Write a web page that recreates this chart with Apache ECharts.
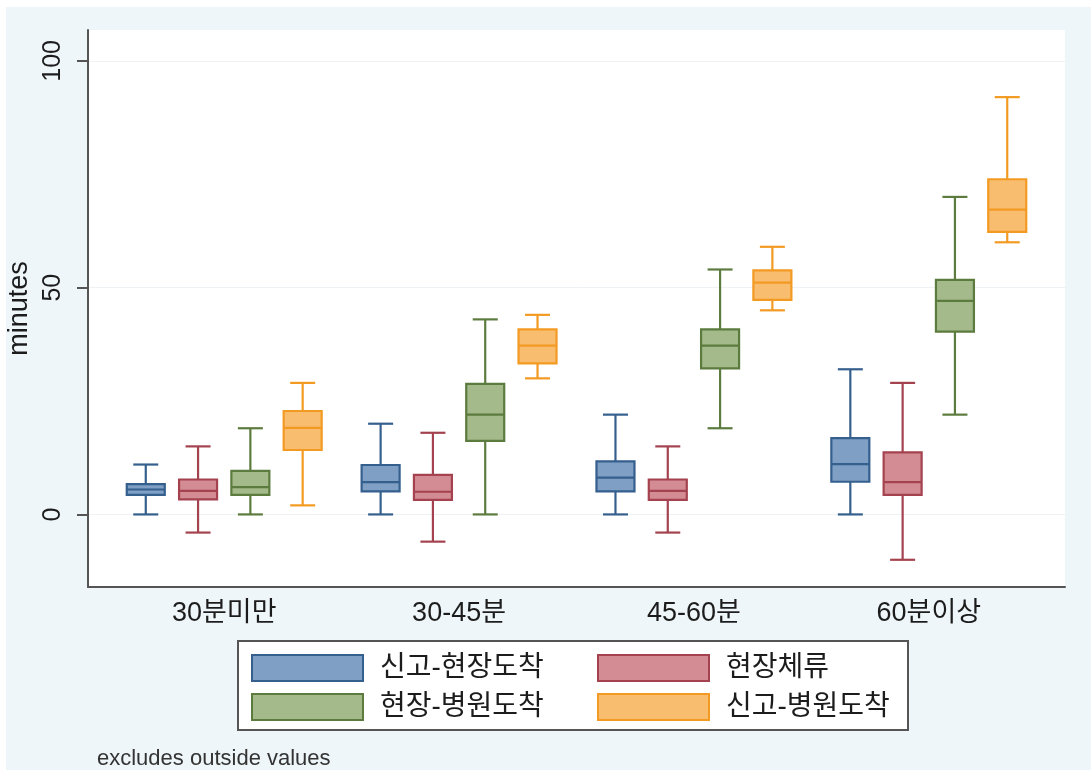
<!DOCTYPE html>
<html>
<head>
<meta charset="utf-8">
<script src="https://cdn.jsdelivr.net/npm/echarts@6/dist/echarts.min.js"></script>
<style>
  html, body { margin: 0; padding: 0; background: #ffffff; }
  #chart { width: 1091px; height: 770px; }
</style>
</head>
<body>
<div id="chart"></div>
<script>
// Response-time groups on the horizontal axis
const categories = ['30분미만', '30-45분', '45-60분', '60분이상'];
const seriesNames = ['신고-현장도착', '현장체류', '현장-병원도착', '신고-병원도착'];
const yTicks = [0, 50, 100];

// Box statistics per group: [lower whisker, Q1, median, Q3, upper whisker] (minutes)
const callToScene = [
  [0, 4.3, 5.5, 6.7, 11],
  [0, 5.1, 7.1, 10.9, 20],
  [0, 5.1, 8.1, 11.7, 22],
  [0, 7.2, 11.1, 16.8, 32]
];
const onScene = [
  [-4, 3.3, 5.2, 7.7, 15],
  [-6, 3.2, 5.0, 8.7, 18],
  [-4, 3.2, 5.2, 7.7, 15],
  [-10, 4.3, 7.1, 13.7, 29]
];
const sceneToHospital = [
  [0, 4.3, 6.0, 9.6, 19],
  [0, 16.2, 22.0, 28.8, 43],
  [19, 32.2, 37.2, 40.8, 54],
  [22, 40.3, 47.1, 51.7, 70]
];
const callToHospital = [
  [2, 14.2, 19.1, 22.8, 29],
  [30, 33.3, 37.2, 40.8, 44],
  [45, 47.3, 51.1, 53.8, 59],
  [60, 62.3, 67.2, 73.9, 92]
];

const allStats = [callToScene, onScene, sceneToHospital, callToHospital];
const fills   = ['#7f9fc4', '#d38c94', '#a4ba8a', '#f9bd6f'];
const strokes = ['#355f8d', '#a4434f', '#5c7b3e', '#f39a23'];

// side-by-side slot of each series inside a group, in axis units
const SLOT_STEP = 0.2227;
const BOX_W = 38;
const CAP_W = 25;
const LINE_W = 2.2;

const FONT = "'Liberation Sans', 'Noto Sans CJK KR', sans-serif";
const TEXT_COLOR = '#1c1c1c';

function makeRenderer(slot, fill, stroke) {
  return function (params, api) {
    const x = api.value(0) + slot;
    const pMin = api.coord([x, api.value(1)]);
    const yQ1 = api.coord([x, api.value(2)])[1];
    const yMed = api.coord([x, api.value(3)])[1];
    const yQ3 = api.coord([x, api.value(4)])[1];
    const yMax = api.coord([x, api.value(5)])[1];
    const cx = pMin[0];
    const yMin = pMin[1];
    const lineStyle = { stroke: stroke, lineWidth: LINE_W, fill: null };
    return {
      type: 'group',
      children: [
        { type: 'line', shape: { x1: cx, y1: yMax, x2: cx, y2: yQ3 }, style: lineStyle },
        { type: 'line', shape: { x1: cx, y1: yQ1, x2: cx, y2: yMin }, style: lineStyle },
        { type: 'line', shape: { x1: cx - CAP_W / 2, y1: yMax, x2: cx + CAP_W / 2, y2: yMax }, style: lineStyle },
        { type: 'line', shape: { x1: cx - CAP_W / 2, y1: yMin, x2: cx + CAP_W / 2, y2: yMin }, style: lineStyle },
        { type: 'rect', shape: { x: cx - BOX_W / 2, y: yQ3, width: BOX_W, height: yQ1 - yQ3 },
          style: { fill: fill, stroke: stroke, lineWidth: LINE_W } },
        { type: 'line', shape: { x1: cx - BOX_W / 2, y1: yMed, x2: cx + BOX_W / 2, y2: yMed }, style: lineStyle }
      ]
    };
  };
}

const series = allStats.map(function (stats, s) {
  return {
    name: seriesNames[s],
    type: 'custom',
    renderItem: makeRenderer((s - 1.5) * SLOT_STEP, fills[s], strokes[s]),
    itemStyle: { color: fills[s], borderColor: strokes[s], borderWidth: 2 },
    encode: { x: 0, y: [1, 2, 3, 4, 5] },
    data: stats.map(function (row, g) { return [g].concat(row); })
  };
});

const legendCommon = {
  orient: 'vertical',
  icon: 'rect',
  padding: 0,
  itemWidth: 111,
  itemHeight: 26,
  itemGap: 11,
  selectedMode: false,
  itemStyle: { borderWidth: 2 },
  textStyle: { fontFamily: FONT, fontSize: 28, lineHeight: 26, color: TEXT_COLOR, padding: [0, 0, 0, 12] }
};

const chart = echarts.init(document.getElementById('chart'), null, { renderer: 'canvas' });
chart.setOption({
  backgroundColor: '#ffffff',
  animation: false,
  graphic: [
    { type: 'rect', z: -10, shape: { x: 6, y: 7, width: 1085, height: 763 }, style: { fill: '#eef6f9' } },
    { type: 'rect', z: 1, shape: { x: 238, y: 641, width: 670, height: 89 },
      style: { fill: '#ffffff', stroke: '#555', lineWidth: 2 } }
  ],
  title: {
    text: 'excludes outside values',
    left: 92, top: 743,
    textStyle: { fontFamily: FONT, fontSize: 22, fontWeight: 'normal', color: '#333' }
  },
  legend: [
    Object.assign({ data: [seriesNames[0], seriesNames[2]], left: 251, top: 654, z: 5 }, legendCommon),
    Object.assign({ data: [seriesNames[1], seriesNames[3]], left: 597, top: 654, z: 5 }, legendCommon)
  ],
  grid: {
    left: 88, right: 26, top: 30, bottom: 183,
    outerBoundsMode: 'none',
    containLabel: false,
    show: true, backgroundColor: '#ffffff', borderWidth: 0
  },
  xAxis: {
    type: 'value',
    min: -0.58, max: 3.58,
    axisLine: { show: true, onZero: false, lineStyle: { color: '#555', width: 2 } },
    axisTick: { show: false },
    splitLine: { show: false },
    axisLabel: {
      customValues: [0, 1, 2, 3],
      formatter: function (v) { return categories[Math.round(v)]; },
      fontFamily: FONT, fontSize: 27, color: TEXT_COLOR, margin: 13
    }
  },
  yAxis: {
    type: 'value',
    min: -16, max: 106.8,
    name: 'minutes',
    nameLocation: 'middle',
    nameRotate: 90,
    nameGap: 52,
    nameTextStyle: { fontFamily: FONT, fontSize: 27, color: TEXT_COLOR },
    axisLine: { show: true, onZero: false, lineStyle: { color: '#555', width: 2 } },
    axisTick: { show: true, customValues: yTicks, length: 11, lineStyle: { color: '#555', width: 2 } },
    axisLabel: {
      customValues: yTicks, rotate: 90, fontFamily: FONT, fontSize: 25, color: TEXT_COLOR, margin: 22
    },
    splitLine: { show: true, lineStyle: { color: '#eef2f4', width: 1 } }
  },
  series: series
});
</script>
</body>
</html>
